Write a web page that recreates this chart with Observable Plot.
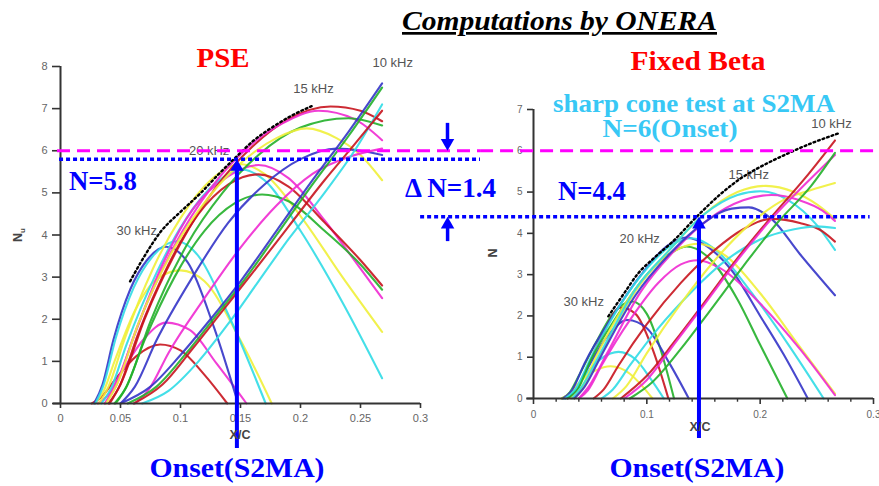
<!DOCTYPE html>
<html><head><meta charset="utf-8">
<script src="https://cdn.jsdelivr.net/npm/d3@7"></script>
<script src="https://cdn.jsdelivr.net/npm/@observablehq/plot@0.6"></script>
<style>
html,body{margin:0;padding:0;background:#fff;}
#chart{position:relative;width:879px;height:486px;overflow:hidden;}
#chart svg{position:absolute;top:0;}
</style></head><body><div id="chart"></div>
<script>
// ---------- ticks ----------
const pseXTicks = [0, 0.05, 0.1, 0.15, 0.2, 0.25, 0.3];
const pseYTicks = [0, 1, 2, 3, 4, 5, 6, 7, 8];
const fbXTicks = [0, 0.1, 0.2, 0.3];
const fbXMinor = [0.02, 0.04, 0.06, 0.08, 0.12, 0.14, 0.16, 0.18, 0.22, 0.24, 0.26, 0.28];
const fbYTicks = [0, 1, 2, 3, 4, 5, 6, 7];

// ---------- PSE N-factor curves [colour key, [[x/c, N], ...]] ----------
const pse30k = [
  ["darkred", [[0.026,0],[0.034,0.15],[0.045,0.55],[0.063,1.12],[0.083,1.4],[0.1,1.26],[0.12,0.68],[0.139,0]]],
  ["magenta", [[0.031,0],[0.039,0.18],[0.05,0.7],[0.07,1.55],[0.088,1.92],[0.108,1.74],[0.13,0.95],[0.155,0]]],
  ["yellow",  [[0.029,0],[0.036,0.3],[0.045,1.0],[0.062,2.2],[0.08,2.95],[0.1,3.16],[0.12,2.9],[0.15,1.5],[0.176,0]]],
  ["blue",    [[0.028,0],[0.035,0.45],[0.044,1.5],[0.058,2.7],[0.072,3.4],[0.088,3.72],[0.106,3.35],[0.128,1.8],[0.148,0]]],
  ["cyan",    [[0.029,0],[0.036,0.45],[0.046,1.55],[0.061,2.75],[0.077,3.5],[0.097,3.85],[0.115,3.5],[0.14,2.1],[0.171,0]]]
];
const pse20k = [
  ["cyan",    [[0.034,0],[0.042,0.35],[0.055,1.4],[0.08,3.1],[0.105,4.4],[0.13,5.25],[0.152,5.55],[0.17,5.3],[0.2,4.1],[0.235,2.4],[0.268,0.6]]],
  ["yellow",  [[0.032,0],[0.04,0.4],[0.053,1.5],[0.077,3.2],[0.1,4.4],[0.125,5.3],[0.15,5.68],[0.17,5.45],[0.2,4.45],[0.235,3.0],[0.268,1.7]]],
  ["magenta", [[0.037,0],[0.046,0.4],[0.06,1.5],[0.085,3.3],[0.11,4.6],[0.14,5.4],[0.165,5.66],[0.19,5.35],[0.22,4.35],[0.25,3.2],[0.268,2.5]]],
  ["darkred", [[0.04,0],[0.049,0.4],[0.064,1.6],[0.09,3.3],[0.115,4.5],[0.14,5.2],[0.165,5.44],[0.19,5.15],[0.22,4.3],[0.25,3.4],[0.268,2.8]]],
  ["green",   [[0.045,0],[0.054,0.35],[0.07,1.5],[0.095,3.0],[0.12,4.1],[0.145,4.75],[0.168,4.96],[0.19,4.8],[0.22,4.1],[0.25,3.3],[0.268,2.7]]]
];
const pse15k = [
  ["darkred", [[0.041,0],[0.05,0.45],[0.07,2.0],[0.1,3.8],[0.13,5.15],[0.16,6.1],[0.19,6.75],[0.225,7.05],[0.25,6.95],[0.268,6.7]]],
  ["magenta", [[0.037,0],[0.046,0.45],[0.065,1.9],[0.095,3.75],[0.125,5.1],[0.155,6.05],[0.185,6.65],[0.215,6.95],[0.245,6.75],[0.268,6.25]]],
  ["green",   [[0.046,0],[0.055,0.4],[0.075,1.95],[0.105,3.75],[0.135,5.0],[0.165,5.9],[0.2,6.55],[0.24,6.77],[0.268,6.6]]],
  ["yellow",  [[0.038,0],[0.047,0.45],[0.065,1.9],[0.095,3.7],[0.125,4.95],[0.15,5.7],[0.18,6.3],[0.205,6.53],[0.23,6.3],[0.25,5.9],[0.268,5.3]]],
  ["blue",    [[0.05,0],[0.062,0.4],[0.08,1.5],[0.11,3.0],[0.14,4.3],[0.17,5.2],[0.2,5.8],[0.23,6.05],[0.25,6.0],[0.268,5.9]]],
  ["magenta", [[0.062,0],[0.074,0.35],[0.09,1.2],[0.12,2.5],[0.15,3.7],[0.18,4.7],[0.21,5.45],[0.24,5.85],[0.268,6.05]]]
];
const pse10k = [
  ["blue",    [[0.05,0],[0.075,0.4],[0.1,1.15],[0.125,2.0],[0.15,2.9],[0.18,4.1],[0.21,5.3],[0.24,6.45],[0.268,7.6]]],
  ["green",   [[0.056,0],[0.08,0.4],[0.105,1.2],[0.13,2.1],[0.155,3.0],[0.18,4.0],[0.21,5.2],[0.24,6.35],[0.268,7.5]]],
  ["cyan",    [[0.068,0],[0.09,0.3],[0.115,1.0],[0.14,1.9],[0.165,2.9],[0.19,3.9],[0.22,5.0],[0.245,6.0],[0.268,7.1]]],
  ["darkred", [[0.061,0],[0.085,0.45],[0.11,1.3],[0.135,2.2],[0.16,3.1],[0.19,4.2],[0.22,5.3],[0.245,6.15],[0.268,6.95]]]
];
const pseEnvelope = [[0.058,2.9],[0.07,3.5],[0.083,4.06],[0.1,4.55],[0.117,5.0],[0.132,5.45],[0.147,5.87],[0.16,6.22],[0.175,6.53],[0.193,6.84],[0.211,7.08]];
const pseFreqLabels = [
  {label: "10 kHz", x: 0.26, n: 8.09},
  {label: "15 kHz", x: 0.194, n: 7.47},
  {label: "20 kHz", x: 0.107, n: 6.0},
  {label: "30 kHz", x: 0.0467, n: 4.1}
];

// ---------- Fixed Beta N-factor curves ----------
const fb30k = [
  ["green",   [[0.025,0],[0.032,0.15],[0.04,0.55],[0.055,1.35],[0.07,2.05],[0.087,2.35],[0.1,2.05],[0.112,1.2],[0.124,0]]],
  ["darkred", [[0.03,0],[0.037,0.17],[0.045,0.6],[0.06,1.5],[0.077,2.2],[0.09,2.05],[0.105,1.2],[0.119,0]]],
  ["blue",    [[0.028,0],[0.036,0.17],[0.045,0.6],[0.065,1.5],[0.083,1.9],[0.1,1.7],[0.12,0.85],[0.137,0]]],
  ["cyan",    [[0.027,0],[0.035,0.15],[0.045,0.55],[0.06,0.97],[0.075,1.13],[0.09,0.95],[0.104,0.45],[0.115,0]]],
  ["yellow",  [[0.025,0],[0.032,0.12],[0.04,0.38],[0.055,0.68],[0.068,0.78],[0.085,0.6],[0.096,0.3],[0.105,0]]]
];
const fb20k = [
  ["blue",    [[0.026,0],[0.034,0.2],[0.045,0.85],[0.07,2.0],[0.095,3.0],[0.118,3.7],[0.135,3.9],[0.155,3.65],[0.175,3.1],[0.2,2.0],[0.22,1.1],[0.242,0]]],
  ["cyan",    [[0.028,0],[0.037,0.22],[0.05,0.95],[0.075,2.2],[0.1,3.15],[0.124,3.75],[0.14,3.88],[0.16,3.62],[0.19,2.65],[0.225,1.3],[0.256,0]]],
  ["green",   [[0.03,0],[0.039,0.22],[0.05,0.9],[0.075,2.05],[0.1,3.0],[0.12,3.5],[0.135,3.68],[0.155,3.4],[0.18,2.4],[0.2,1.3],[0.224,0]]],
  ["yellow",  [[0.033,0],[0.042,0.25],[0.055,1.0],[0.08,2.25],[0.105,3.15],[0.13,3.65],[0.145,3.75],[0.17,3.45],[0.2,2.55],[0.235,1.25],[0.266,0.12]]],
  ["magenta", [[0.04,0],[0.048,0.2],[0.06,0.8],[0.085,1.9],[0.11,2.8],[0.13,3.25],[0.145,3.35],[0.165,3.15],[0.2,2.3],[0.235,1.2],[0.266,0.08]]]
];
const fb15k = [
  ["yellow",  [[0.036,0],[0.045,0.3],[0.06,1.1],[0.09,2.6],[0.12,3.6],[0.15,4.45],[0.18,5.0],[0.205,5.15],[0.23,5.0],[0.25,4.7],[0.266,4.35]]],
  ["cyan",    [[0.034,0],[0.043,0.3],[0.06,1.15],[0.09,2.65],[0.12,3.6],[0.15,4.45],[0.18,4.93],[0.2,5.02],[0.225,4.8],[0.25,4.2],[0.266,3.6]]],
  ["magenta", [[0.04,0],[0.049,0.3],[0.065,1.1],[0.095,2.6],[0.125,3.6],[0.155,4.35],[0.185,4.8],[0.21,4.93],[0.235,4.8],[0.255,4.55],[0.266,4.3]]],
  ["blue",    [[0.036,0],[0.045,0.28],[0.06,1.05],[0.09,2.5],[0.12,3.5],[0.15,4.25],[0.175,4.6],[0.19,4.63],[0.21,4.35],[0.235,3.5],[0.266,2.5]]],
  ["darkred", [[0.053,0],[0.062,0.22],[0.075,0.8],[0.1,1.8],[0.13,2.8],[0.16,3.6],[0.185,4.1],[0.21,4.35],[0.235,4.25],[0.255,4.05],[0.266,3.8]]],
  ["cyan",    [[0.06,0],[0.07,0.22],[0.085,0.8],[0.11,1.7],[0.14,2.6],[0.17,3.35],[0.2,3.85],[0.23,4.1],[0.25,4.17],[0.266,4.13]]]
];
const fb10k = [
  ["yellow",  [[0.07,0],[0.082,0.3],[0.1,1.1],[0.13,2.3],[0.16,3.35],[0.19,4.2],[0.22,4.8],[0.245,5.05],[0.266,5.22]]],
  ["darkred", [[0.077,0],[0.1,0.55],[0.125,1.4],[0.15,2.3],[0.18,3.4],[0.21,4.4],[0.24,5.35],[0.266,6.25]]],
  ["magenta", [[0.08,0],[0.1,0.45],[0.125,1.35],[0.15,2.25],[0.18,3.35],[0.21,4.35],[0.24,5.2],[0.266,5.9]]],
  ["green",   [[0.085,0],[0.105,0.4],[0.13,1.2],[0.155,2.1],[0.185,3.2],[0.215,4.25],[0.245,5.15],[0.266,5.95]]]
];
const fbEnvelope = [[0.066,1.99],[0.08,2.55],[0.092,3.02],[0.107,3.42],[0.122,3.78],[0.145,4.43],[0.165,4.95],[0.185,5.37],[0.205,5.68],[0.224,5.93],[0.245,6.18],[0.269,6.42]];
const fbFreqLabels = [
  {label: "10 kHz", x: 0.245, n: 6.65},
  {label: "15 kHz", x: 0.172, n: 5.41},
  {label: "20 kHz", x: 0.0758, n: 3.86},
  {label: "30 kHz", x: 0.0264, n: 2.34}
];

// ---------- annotation values ----------
const onsetN = 6;          // S2MA onset
const pseOnset = {x: 0.147, n: 5.8};
const fbOnset = {x: 0.146, n: 4.4};
const deltaN = 1.4;

// ---------- styles ----------
const palette = {darkred: "#c8141e", magenta: "#f02ad2", green: "#22b02a", blue: "#3434c8", cyan: "#30dce6", yellow: "#f0f03a"};
const BLUE = "#0000ff", MAG = "#ff00ff";
const sans = "'Liberation Sans', Arial, sans-serif";

function curveMarks(groups) {
  return groups.flat().map(([c, pts]) => Plot.line(pts, {
    x: d => d[0], y: d => d[1], stroke: palette[c], strokeWidth: 2.1, strokeOpacity: 0.9, curve: "monotone-x"
  }));
}
function envelope(pts) {
  return Plot.line(pts, {x: d => d[0], y: d => d[1], stroke: "#000", strokeWidth: 2.4, strokeDasharray: "1.8,3", curve: "monotone-x"});
}
const fmt = d => String(d);

// ---------- PSE panel ----------
const left = Plot.plot({
  width: 500, height: 486,
  marginLeft: 60, marginRight: 80, marginTop: 66, marginBottom: 83,
  x: {domain: [0, 0.3]}, y: {domain: [0, 8]},
  style: {background: "transparent", overflow: "visible", fontFamily: sans},
  marks: [
    Plot.text(pseFreqLabels, {x: "x", y: "n", text: "label", textAnchor: "start", fill: "#555", fontSize: 13}),
    ...curveMarks([pse30k, pse20k, pse15k, pse10k]),
    envelope(pseEnvelope),
    Plot.ruleX([0], {y1: 0, y2: 8, stroke: "#333", strokeWidth: 2}),
    Plot.ruleY([0], {x1: -0.006, x2: 0.3, stroke: "#333", strokeWidth: 2}),
    Plot.axisY({ticks: pseYTicks, tickSize: 8, tickPadding: 5, stroke: "#333", strokeWidth: 1.6, fill: "#666", fontSize: 11, label: null, tickFormat: fmt}),
    Plot.axisX({ticks: pseXTicks, tickSize: 5, tickPadding: 6, stroke: "#333", strokeWidth: 1.6, fill: "#666", fontSize: 11, label: null, tickFormat: fmt}),
    Plot.ruleY([onsetN], {x1: -0.0025, x2: 0.35, stroke: MAG, strokeWidth: 3, strokeDasharray: "13,7"}),
    Plot.ruleY([pseOnset.n], {x1: -0.0008, x2: 0.35, stroke: BLUE, strokeWidth: 3.5, strokeDasharray: "4,3"}),
    Plot.ruleX([pseOnset.x], {y1: -1.07, y2: pseOnset.n - 0.15, stroke: BLUE, strokeWidth: 4}),
    Plot.dot([pseOnset], {x: "x", y: "n", symbol: "triangle", r: 5, fill: BLUE, stroke: "none", dy: 7.8}),
    // down arrow of the delta-N marker
    Plot.ruleX([0.3225], {y1: onsetN + 0.65, y2: onsetN + 0.15, stroke: BLUE, strokeWidth: 3.5}),
    Plot.dot([{x: 0.3225, n: onsetN}], {x: "x", y: "n", symbol: "triangle", r: 5, rotate: 180, fill: BLUE, stroke: "none", dy: -7.8})
  ]
});
left.style.left = "0px";

// ---------- Fixed Beta panel ----------
const right = Plot.plot({
  width: 479, height: 486,
  marginLeft: 133, marginRight: 6, marginTop: 109, marginBottom: 88,
  x: {domain: [0, 0.3]}, y: {domain: [0, 7]},
  style: {background: "transparent", overflow: "visible", fontFamily: sans},
  marks: [
    Plot.text(fbFreqLabels, {x: "x", y: "n", text: "label", textAnchor: "start", fill: "#555", fontSize: 13}),
    ...curveMarks([fb30k, fb20k, fb15k, fb10k]),
    envelope(fbEnvelope),
    Plot.ruleX([0], {y1: 0, y2: 7, stroke: "#333", strokeWidth: 2}),
    Plot.ruleY([0], {x1: -0.006, x2: 0.3, stroke: "#333", strokeWidth: 2}),
    Plot.ruleX(fbXMinor, {y1: 0, y2: -0.09, stroke: "#333", strokeWidth: 1.4}),
    Plot.axisY({ticks: fbYTicks, tickSize: 6, tickPadding: 5, stroke: "#333", strokeWidth: 1.6, fill: "#666", fontSize: 10, label: null, tickFormat: fmt}),
    Plot.axisX({ticks: fbXTicks, tickSize: 6, tickPadding: 6, stroke: "#333", strokeWidth: 1.6, fill: "#666", fontSize: 10, label: null, tickFormat: fmt}),
    Plot.ruleY([onsetN], {x1: -0.0467, x2: 0.305, stroke: MAG, strokeWidth: 3, strokeDasharray: "13,7"}),
    Plot.ruleY([fbOnset.n], {x1: -0.0996, x2: 0.297, stroke: BLUE, strokeWidth: 3.5, strokeDasharray: "4,3"}),
    Plot.ruleX([fbOnset.x], {y1: -0.97, y2: fbOnset.n - 0.15, stroke: BLUE, strokeWidth: 4}),
    Plot.dot([fbOnset], {x: "x", y: "n", symbol: "triangle", r: 5, fill: BLUE, stroke: "none", dy: 7.8}),
    // up arrow of the delta-N marker
    Plot.ruleX([-0.0758], {y1: fbOnset.n - 0.6, y2: fbOnset.n - 0.15, stroke: BLUE, strokeWidth: 3.5}),
    Plot.dot([{x: -0.0758, n: fbOnset.n}], {x: "x", y: "n", symbol: "triangle", r: 5, fill: BLUE, stroke: "none", dy: 7.8})
  ]
});
right.style.left = "400px";

const chart = document.getElementById("chart");
chart.appendChild(left);
chart.appendChild(right);

// ---------- text overlay ----------
const ov = d3.create("svg").attr("width", 879).attr("height", 486).style("left", "0px").style("pointer-events", "none");
const serif = "'Liberation Serif', 'Times New Roman', serif";
function label(s, x, y, o) {
  const t = ov.append("text").attr("x", x).attr("y", y).text(s)
    .attr("font-family", o.family || serif).attr("font-weight", o.weight || "bold")
    .attr("font-size", o.size).attr("fill", o.fill).attr("text-anchor", o.anchor || "start");
  if (o.len) t.attr("textLength", o.len).attr("lengthAdjust", "spacingAndGlyphs");
  if (o.italic) t.attr("font-style", "italic");
  if (o.underline) t.style("text-decoration", "underline");
  return t;
}
label("Computations by ONERA", 402, 30, {size: 27, fill: "#000", len: 315, italic: true, underline: true});
label("PSE", 223, 67, {size: 28, fill: "#ff0000", anchor: "middle", len: 53});
label("Fixed Beta", 698, 70, {size: 28, fill: "#ff0000", anchor: "middle", len: 135});
label("sharp cone test at S2MA", 694, 112, {size: 25, fill: "#38c8f5", anchor: "middle", len: 282});
label("N=6(Onset)", 670, 137, {size: 25, fill: "#38c8f5", anchor: "middle", len: 135});
label("N=" + pseOnset.n, 69, 190, {size: 27, fill: BLUE, len: 68});
label("\u0394 N=" + deltaN, 405, 197, {size: 27, fill: BLUE, len: 91});
label("N=" + fbOnset.n, 558, 200, {size: 27, fill: BLUE, len: 68});
label("Onset(S2MA)", 237, 477, {size: 28, fill: BLUE, anchor: "middle", len: 175});
label("Onset(S2MA)", 697, 477, {size: 28, fill: BLUE, anchor: "middle", len: 175});
// axis titles
label("X/C", 240, 439, {family: sans, size: 12.5, fill: "#444", anchor: "middle"});
label("X/C", 700, 431, {family: sans, size: 12.5, fill: "#444", anchor: "middle"});
const nu = label("N", 18, 239, {family: sans, size: 12.5, fill: "#444", anchor: "middle"}).attr("transform", "rotate(-90,18,235)");
nu.append("tspan").attr("font-size", 8).attr("dy", 3).text("u");
label("N", 493, 257, {family: sans, size: 12.5, fill: "#444", anchor: "middle"}).attr("transform", "rotate(-90,493,253)");
chart.appendChild(ov.node());
</script></body></html>
